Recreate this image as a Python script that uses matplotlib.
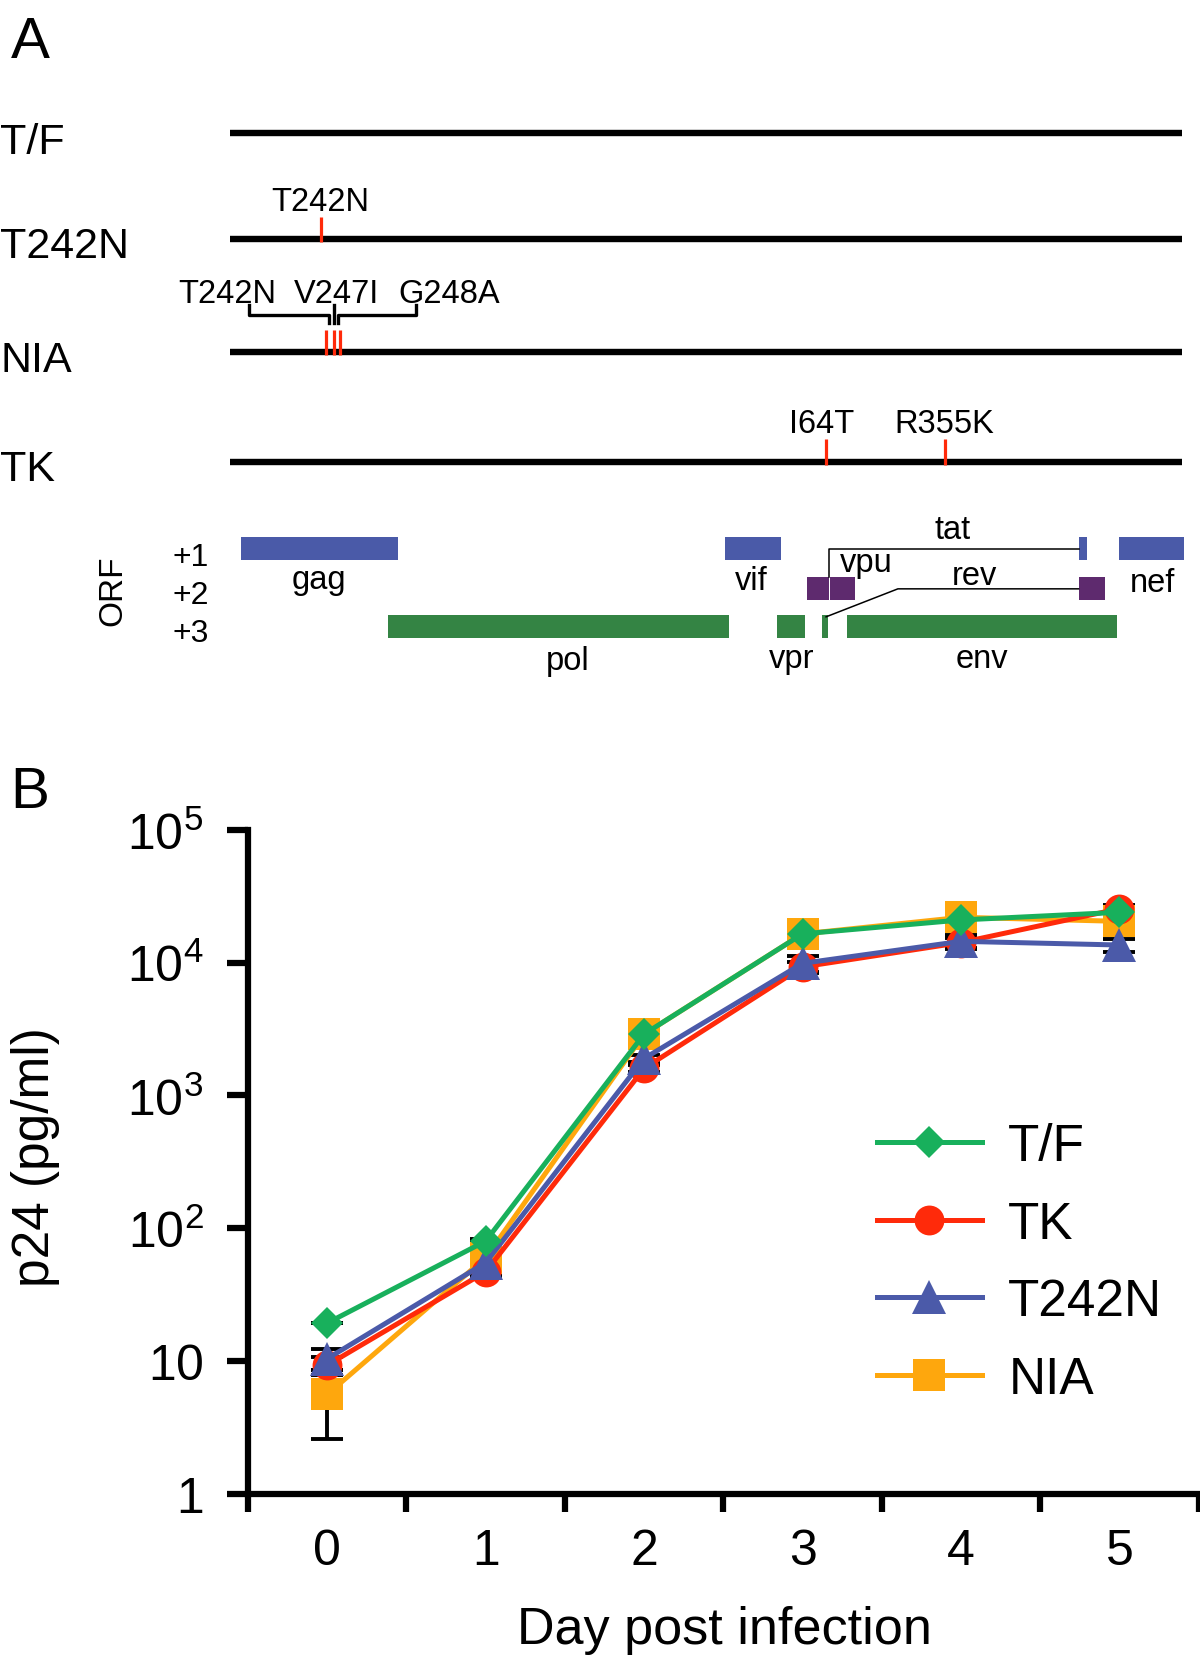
import matplotlib
matplotlib.use("Agg")
import matplotlib.pyplot as plt
import numpy as np
from matplotlib.lines import Line2D

plt.rcParams['font.family'] = ['Liberation Sans', 'DejaVu Sans']
plt.rcParams['mathtext.fontset'] = 'custom'
plt.rcParams['mathtext.rm'] = 'Liberation Sans'
plt.rcParams['mathtext.it'] = 'Liberation Sans:italic'

# ---------------- panel A data (schematic genome map, map units) ----------------
strains = ['T/F', 'T242N', 'NIA', 'TK']
strain_y = [127, 227, 334, 438]
genome_start, genome_end = 218, 1119

mut_row = ['T242N', 'NIA', 'NIA', 'NIA', 'TK', 'TK']
mut_pos = [304, 309, 316, 322, 782, 895]

gene_names = ['gag', 'pol', 'vif', 'vpr', 'tat', 'rev', 'vpu', 'env', 'tat', 'rev', 'nef']
gene_frame = [1, 3, 1, 3, 2, 3, 2, 3, 1, 2, 1]
gene_start = [228, 367, 686, 736, 763.5, 778, 785.5, 802, 1021, 1021, 1059]
gene_end = [377, 690, 739, 762, 785, 784, 809, 1057, 1029, 1046, 1121]
frame_y = {1: 520, 2: 558.5, 3: 594.5}
frame_col = {1: '#4a5aa8', 2: '#5e2a6e', 3: '#348444'}

# ---------------- panel B data ----------------
days = [0, 1, 2, 3, 4, 5]
p24_tf = [19.3, 80, 2900, 16500, 21000, 24000]
p24_tk = [9.3, 47, 1600, 9300, 14200, 25500]
p24_t242n = [10.4, 55, 1900, 9900, 14500, 13600]
p24_nia = [5.6, 60, 2900, 16500, 22000, 20500]
sd_tf = [0, 3, 150, 800, 1200, 1200]
sd_tk = [1.5, 3, 100, 900, 1200, 1500]
sd_t242n = [1.9, 3, 120, 1400, 1800, 1600]
sd_nia = [3.0, 3, 150, 900, 1500, 1500]

series = ['T/F', 'TK', 'T242N', 'NIA']
values = [p24_tf, p24_tk, p24_t242n, p24_nia]
errors = [sd_tf, sd_tk, sd_t242n, sd_nia]
colors = ['#18b05c', '#ff2a0a', '#4b5aa9', '#fea70d']
markers = ['D', 'o', '^', 's']
msizes = [16.5, 21.5, 25, 22.5]
zorders = [6, 4, 5, 3]

fig = plt.figure(figsize=(12, 16.56), dpi=100)

# ---------------- panel A ----------------
ax_a = fig.add_axes([0, 0, 1, 1])
ax_a.set_xlim(0, 1136)
ax_a.set_ylim(1568, 0)
ax_a.axis('off')

ax_a.text(10, 55, 'A', fontsize=42, va='baseline', ha='left')
row_base = [145.5, 244, 352, 455]
for name, y, b in zip(strains, strain_y, row_base):
    ax_a.plot([genome_start, genome_end], [y, y], color='black', lw=4.6, solid_capstyle='butt')
    ax_a.text(0, b, name, fontsize=31, va='baseline', ha='left')

# mutations
for row, x in zip(mut_row, mut_pos):
    y = strain_y[strains.index(row)]
    ax_a.plot([x, x], [y - 21, y + 3], color='#ff2a0a', lw=2.3, solid_capstyle='butt', zorder=3)

ax_a.text(303, 200, 'T242N', fontsize=23.5, ha='center', va='baseline')
ax_a.text(215, 287, 'T242N', fontsize=23.5, ha='center', va='baseline')
ax_a.text(319, 287, 'V247I', fontsize=23.5, ha='center', va='baseline')
ax_a.text(425, 287, 'G248A', fontsize=23.5, ha='center', va='baseline')
ax_a.text(778, 410, 'I64T', fontsize=23.5, ha='center', va='baseline')
ax_a.text(894, 410, 'R355K', fontsize=23.5, ha='center', va='baseline')

# bracket linking NIA labels
blw = 2.4
ax_a.plot([236, 236, 311, 311], [290, 299, 299, 307], color='black', lw=blw)
ax_a.plot([316, 316], [290, 307], color='black', lw=blw)
ax_a.plot([394, 394, 320, 320], [290, 299, 299, 307], color='black', lw=blw)

# ORF map
for f in [1, 2, 3]:
    idx = [i for i in range(len(gene_names)) if gene_frame[i] == f]
    ax_a.barh([frame_y[f]] * len(idx),
              [gene_end[i] - gene_start[i] for i in idx],
              left=[gene_start[i] for i in idx],
              height=22, color=frame_col[f], edgecolor='none')

ax_a.text(107, 559, 'ORF', fontsize=24, rotation=90, ha='center', va='center')
ax_a.text(163, 536, '+1', fontsize=23, ha='left', va='baseline')
ax_a.text(163, 572, '+2', fontsize=23, ha='left', va='baseline')
ax_a.text(163, 608, '+3', fontsize=23, ha='left', va='baseline')

gene_lbl = [('gag', 302, 558), ('pol', 537, 634), ('vif', 711, 558.5), ('vpr', 749, 632.5),
            ('env', 930, 632.5), ('nef', 1091, 561), ('tat', 902, 510), ('vpu', 820, 542),
            ('rev', 922, 554)]
for t, x, y in gene_lbl:
    ax_a.text(x, y, t, fontsize=23.5, ha='center', va='baseline')

# splice connectors for tat and rev
ax_a.plot([785, 785, 1021], [547, 521, 521], color='black', lw=1.1)
ax_a.plot([782, 850, 1021], [585, 558.5, 558.5], color='black', lw=1.1)

ax_a.text(10, 765, 'B', fontsize=42, va='baseline', ha='left')

# ---------------- panel B ----------------
ax_b = fig.add_axes([248 / 1200, 1 - 1494.7 / 1656, 950.7 / 1200, 663.7 / 1656])
ax_b.set_yscale('log')
ax_b.set_ylim(1, 1e5)
ax_b.set_xlim(-0.5, 5.5)

for s, v, e, c, m, ms, z in zip(series, values, errors, colors, markers, msizes, zorders):
    ax_b.errorbar(days, v, yerr=e, fmt='none', ecolor='black', elinewidth=2.8,
                  capsize=11.5, capthick=2.8, zorder=2)
for s, v, e, c, m, ms, z in zip(series, values, errors, colors, markers, msizes, zorders):
    ax_b.plot(days, v, color=c, lw=3.6, marker=m, markersize=ms, markeredgewidth=0,
              zorder=z, clip_on=False)

for side in ['top', 'right']:
    ax_b.spines[side].set_visible(False)
ax_b.spines['left'].set_linewidth(4.5)
ax_b.spines['bottom'].set_linewidth(4.5)

ax_b.set_yticks([1, 10, 100, 1e3, 1e4, 1e5])
ax_b.set_yticklabels([r'$\mathregular{1\;\;\;}$', r'$\mathregular{10\;\;\;}$', r'$\mathregular{10^2}$',
                      r'$\mathregular{10^3}$', r'$\mathregular{10^4}$', r'$\mathregular{10^5}$'])
ax_b.yaxis.set_minor_locator(matplotlib.ticker.NullLocator())
ax_b.tick_params(axis='y', which='major', length=15, width=4.5, labelsize=36, pad=17)

ax_b.set_xticks(days)
ax_b.set_xticklabels([str(d) for d in days])
ax_b.set_xticks(np.arange(-0.5, 6, 1), minor=True)
ax_b.tick_params(axis='x', which='major', length=0, labelsize=36, pad=25)
ax_b.tick_params(axis='x', which='minor', length=13, width=4.5)

ax_b.set_ylabel('p24 (pg/ml)', fontsize=37)
ax_b.yaxis.set_label_coords(-0.198, 0.509)
ax_b.set_xlabel('Day post infection', fontsize=37.5)
ax_b.xaxis.set_label_coords(0.501, -0.168)

handles = [Line2D([], [], color=c, lw=3.6, marker=m, markersize=ms, markeredgewidth=0)
           for c, m, ms in zip(colors, markers, msizes)]
ax_b.legend(handles, series, loc='upper left', bbox_to_anchor=(0.7306, 0.322),
            bbox_transform=fig.transFigure, frameon=False, borderpad=0, borderaxespad=0,
            handlelength=2.04, handletextpad=0.52, labelspacing=0.56, fontsize=37)

fig.savefig('out.png', dpi=100)
